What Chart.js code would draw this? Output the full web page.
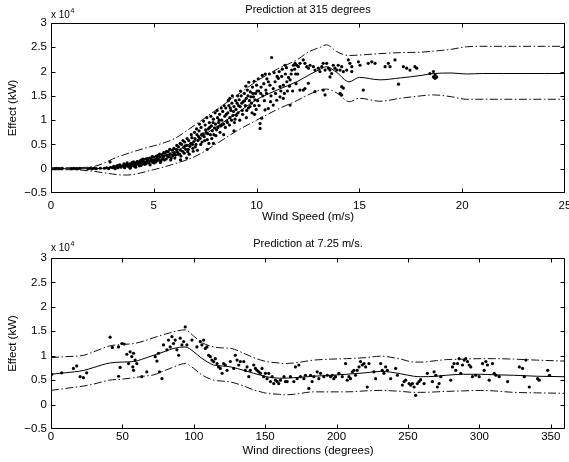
<!DOCTYPE html>
<html>
<head>
<meta charset="utf-8">
<script src="https://cdn.jsdelivr.net/npm/chart.js@4.4.1/dist/chart.umd.min.js"></script>
<style>
  html, body { margin: 0; padding: 0; background: #fff; }
  #wrap { position: relative; width: 569px; height: 462px; background: #fff; }
  canvas { position: absolute; left: 0; }
  #c1 { top: 0; }
  #c2 { top: 230px; }
</style>
</head>
<body>
<div id="wrap">
  <canvas id="c1" width="569" height="230"></canvas>
  <canvas id="c2" width="569" height="232"></canvas>
</div>
<script>
// ---------- tick labels ----------
const effectTicks = [-0.5, 0, 0.5, 1, 1.5, 2, 2.5, 3];
const speedTicks = [0, 5, 10, 15, 20, 25];
const dirTicks = [0, 50, 100, 150, 200, 250, 300, 350];

// ---------- top panel: prediction at 315 degrees (values in 10^4 kW) ----------
const speedGrid  = [0, 1, 2, 2.5, 3, 3.5, 4, 4.8, 5, 6, 7, 8, 9, 10, 11, 12, 12.5, 13.1, 13.4, 13.9, 14.5, 15.0, 16.0, 17.0, 18.0, 18.6, 19.5, 20.2, 21, 22, 23, 24, 25];
const speedMean  = [0, 0, 0, 0.01, 0.03, 0.06, 0.1, 0.17, 0.19, 0.35, 0.57, 0.85, 1.13, 1.42, 1.62, 1.8, 1.92, 2.05, 2.1, 1.98, 1.79, 1.88, 1.83, 1.87, 1.92, 1.96, 1.97, 1.95, 1.96, 1.96, 1.96, 1.96, 1.96];
const speedUpper = [0.02, 0.02, 0.04, 0.1, 0.2, 0.28, 0.35, 0.45, 0.47, 0.62, 0.9, 1.2, 1.5, 1.8, 2.05, 2.25, 2.4, 2.5, 2.55, 2.41, 2.33, 2.34, 2.37, 2.39, 2.4, 2.42, 2.46, 2.51, 2.52, 2.52, 2.52, 2.52, 2.52];
const speedLower = [-0.02, -0.02, -0.05, -0.08, -0.11, -0.13, -0.12, -0.04, -0.02, 0.1, 0.25, 0.5, 0.77, 1.0, 1.22, 1.41, 1.52, 1.62, 1.64, 1.56, 1.38, 1.45, 1.39, 1.45, 1.5, 1.52, 1.48, 1.43, 1.43, 1.43, 1.43, 1.43, 1.43];

const speedObs = [
  [0.2,0.0],[0.3,0.01],[0.4,0.0],[0.5,0.0],[0.55,0.01],[1.0,0.0],[1.1,0.01],[1.2,0.0],[1.3,0.0],[1.4,0.01],
  [1.8,0.0],[1.9,0.01],[2.0,0.0],[2.1,0.01],[2.2,0.0],[2.4,0.01],
  [2.6,0.01],[2.7,0.02],[2.8,0.0],[2.87,0.14],[2.9,0.03],[3.0,0.02],[3.05,0.05],[3.1,0.03],[3.2,0.06],[3.25,0.02],
  [3.3,0.04],[3.35,0.08],[3.4,0.03],[3.5,0.06],[3.55,0.1],[3.6,0.04],[3.65,0.07],[3.7,0.12],[3.75,0.05],[3.8,0.08],
  [3.85,0.01],[3.85,0.1],[3.9,0.06],[3.95,0.13],[4.0,0.09],
  [4.05,0.05],[4.1,0.12],[4.15,0.08],[4.2,0.15],[4.25,0.1],[4.3,0.06],[4.35,0.13],[4.4,0.18],[4.45,0.11],[4.5,0.15],
  [4.55,0.09],[4.6,0.2],[4.65,0.14],[4.7,0.17],[4.75,0.12],[4.8,0.22],[4.85,0.16],[4.9,0.19],[4.95,0.13],[5.0,0.24],
  [5.05,0.18],[5.1,0.14],[5.15,0.22],[5.2,0.27],[5.25,0.19],[5.3,0.24],[5.35,0.16],[5.4,0.29],[5.45,0.22],[5.5,0.26],
  [5.55,0.32],[5.6,0.2],[5.65,0.28],[5.7,0.35],[5.75,0.25],[5.8,0.3],[5.85,0.22],[5.9,0.38],[5.95,0.29],[6.0,0.33],
  [6.05,0.28],[6.1,0.4],[6.15,0.34],[6.2,0.45],[6.25,0.3],[6.3,0.38],[6.35,0.5],[6.4,0.36],[6.45,0.44],[6.5,0.55],
  [6.55,0.4],[6.6,0.48],[6.65,0.35],[6.7,0.58],[6.75,0.46],[6.8,0.52],[6.85,0.64],[6.9,0.42],[6.95,0.56],[7.0,0.62],
  [6.6,0.22],[6.3,0.18],
  [7.05,0.5],[7.1,0.7],[7.15,0.58],[7.2,0.78],[7.25,0.62],[7.3,0.85],[7.35,0.55],[7.4,0.72],[7.45,0.66],[7.5,0.9],
  [7.55,0.75],[7.6,0.6],[7.65,0.82],[7.7,0.95],[7.75,0.7],[7.8,0.88],[7.85,0.78],[7.9,1.02],[7.95,0.84],[8.0,0.92],
  [7.6,0.4],[7.9,0.52],
  [8.05,0.8],[8.1,1.05],[8.15,0.95],[8.2,1.12],[8.25,0.88],[8.3,1.0],[8.35,1.18],[8.4,0.92],[8.45,1.08],[8.5,1.25],
  [8.55,0.98],[8.6,1.15],[8.65,1.3],[8.7,1.05],[8.75,1.2],[8.8,1.35],[8.85,1.1],[8.9,1.28],[8.95,1.02],[9.0,1.22],
  [8.4,0.7],[8.9,0.78],[8.7,1.45],
  [9.05,1.35],[9.1,1.15],[9.15,1.42],[9.2,1.28],[9.25,1.5],[9.3,1.2],[9.35,1.38],[9.4,1.55],[9.45,1.3],[9.5,1.45],
  [9.55,1.62],[9.6,1.25],[9.65,1.4],[9.7,1.58],[9.75,1.35],[9.8,1.68],[9.85,1.48],[9.9,1.3],[9.95,1.55],[10.0,1.72],
  [9.5,1.05],[9.9,1.12],
  [10.05,1.4],[10.1,1.6],[10.17,0.83],[10.17,0.93],[10.25,1.04],[10.3,1.5],[10.35,1.75],[10.41,1.21],[10.45,1.62],
  [10.5,1.85],[10.57,1.79],[10.57,1.24],[10.65,1.72],[10.73,2.29],[10.81,1.65],[10.81,1.31],[10.9,1.79],[10.98,1.41],
  [11.0,1.9],[10.2,1.55],[10.7,1.5],
  [11.06,1.86],[11.14,1.69],[11.14,1.48],[11.22,1.9],[11.3,1.72],[11.3,1.45],[11.38,2.13],[11.4,1.95],[11.47,1.79],
  [11.55,1.88],[11.63,1.83],[11.63,1.31],[11.71,2.03],[11.79,2.13],[11.87,2.17],[11.95,2.13],[12.03,2.1],[11.9,1.95],
  [11.5,1.6],[12.11,2.17],[12.11,1.62],
  [12.27,2.24],[12.35,2.17],[12.44,2.1],[12.52,2.07],[12.6,2.13],[12.76,2.1],[12.84,2.03],[13.0,2.07],[13.08,2.0],
  [13.17,2.1],[13.24,2.17],[13.33,2.03],[13.41,2.17],[13.49,2.07],[13.57,2.03],[13.65,1.96],[13.73,2.13],[13.81,2.07],
  [13.9,2.03],[13.97,2.13],[14.06,2.03],[14.14,2.1],[14.22,2.0],[14.38,2.03],[14.46,2.24],[14.54,2.17],[14.63,2.1],
  [14.63,2.0],[12.52,1.76],[13.33,1.52],[13.57,1.89],[14.06,1.55],[14.14,1.69],[14.22,1.66],[12.27,1.62],[12.84,1.59],
  [13.24,1.62],[12.35,1.65],[14.14,1.52],
  [14.95,2.2],[15.03,2.13],[15.19,1.62],[15.43,2.17],[15.6,2.2],[15.76,2.17],[16.25,2.1],[16.41,2.17],[16.49,2.1],
  [16.73,2.24],[16.9,1.74],[17.14,2.1],[17.3,2.07],[17.46,2.03],[17.7,2.1],[17.79,2.07],[18.43,1.96],[18.6,2.0],
  [18.68,1.93],[18.76,1.89],[18.6,1.89],[18.68,1.86],
  // extra observations filling the dense cloud
  [3.12,0.0],[3.28,0.07],[3.42,0.05],[3.58,0.02],[3.72,0.09],[3.88,0.04],[4.02,0.14],[4.12,0.03],[4.22,0.11],
  [4.33,0.16],[4.38,0.07],[4.48,0.2],[4.52,0.12],[4.62,0.1],[4.68,0.21],[4.78,0.15],[4.82,0.08],[4.92,0.25],[4.98,0.17],
  [5.02,0.12],[5.12,0.26],[5.18,0.17],[5.28,0.3],[5.32,0.13],[5.42,0.2],[5.48,0.33],[5.52,0.18],[5.62,0.36],[5.68,0.24],
  [5.78,0.4],[5.82,0.18],[5.92,0.27],[5.98,0.42],[6.02,0.22],[6.12,0.48],[6.18,0.3],[6.28,0.52],[6.32,0.26],[6.42,0.58],
  [6.48,0.32],[6.52,0.47],[6.62,0.62],[6.68,0.4],[6.72,0.3],[6.82,0.7],[6.88,0.5],[6.92,0.36],[6.98,0.75],
  [7.02,0.45],[7.08,0.82],[7.12,0.38],[7.18,0.66],[7.22,0.92],[7.28,0.5],[7.32,0.7],[7.42,0.98],[7.48,0.58],[7.52,0.8],
  [7.58,1.05],[7.62,0.72],[7.68,0.52],[7.72,0.85],[7.78,1.08],[7.82,0.62],[7.88,0.95],[7.92,0.7],[7.98,1.15],[8.02,0.68],
  [8.08,1.2],[8.12,0.85],[8.18,1.0],[8.22,0.75],[8.28,1.25],[8.32,0.9],[8.42,1.3],[8.48,0.85],[8.52,1.12],[8.58,0.95],
  [8.62,1.4],[8.68,0.9],[8.72,1.25],[8.78,1.0],[8.82,1.5],[8.88,1.18],[8.92,0.95],[8.98,1.4],
  [9.02,1.1],[9.08,1.5],[9.12,1.3],[9.18,1.0],[9.22,1.6],[9.28,1.35],[9.32,1.12],[9.42,1.4],[9.48,1.7],[9.52,1.2],
  [9.58,1.5],[9.62,1.78],[9.68,1.28],[9.72,1.48],[9.78,1.15],[9.82,1.55],[9.88,1.8],[9.92,1.42],[9.98,1.22],[10.02,1.6],
  [10.08,1.85],[10.12,1.3],[10.22,1.68],[10.28,1.92],[10.38,1.4],[10.42,1.95],[10.48,1.55],[10.62,1.95],[10.68,1.38],
  [10.85,1.98],[10.92,1.55],
  [11.1,2.0],[11.18,1.6],[11.25,2.05],[11.35,1.55],[11.45,2.08],[11.6,1.7],[11.68,1.95],[11.75,1.6],[11.85,2.05],
  [11.92,1.75],[12.0,1.95]
];

// ---------- bottom panel: prediction at 7.25 m/s (values in 10^4 kW) ----------
const dirGrid  = [0, 10, 23, 30, 41, 50, 58, 65, 72, 80, 86, 94, 100, 105, 114, 120, 126, 135, 142, 147, 151, 160, 163, 170, 184, 196, 207, 220, 231, 245, 254, 259, 270, 277, 289, 301, 310, 324, 340, 360];
const dirMean  = [0.62, 0.65, 0.70, 0.76, 0.85, 0.87, 0.88, 0.94, 1.01, 1.09, 1.15, 1.18, 1.08, 0.96, 0.81, 0.79, 0.77, 0.70, 0.64, 0.60, 0.57, 0.54, 0.54, 0.55, 0.58, 0.60, 0.62, 0.65, 0.68, 0.63, 0.58, 0.57, 0.58, 0.60, 0.62, 0.62, 0.61, 0.60, 0.58, 0.57];
const dirUpper = [0.96, 0.98, 1.01, 1.08, 1.20, 1.23, 1.25, 1.30, 1.37, 1.44, 1.49, 1.53, 1.40, 1.28, 1.18, 1.16, 1.15, 1.05, 0.96, 0.91, 0.88, 0.85, 0.84, 0.85, 0.91, 0.93, 0.94, 0.96, 0.99, 0.93, 0.87, 0.87, 0.90, 0.92, 0.93, 0.94, 0.94, 0.93, 0.91, 0.89];
const dirLower = [0.29, 0.33, 0.38, 0.42, 0.50, 0.52, 0.55, 0.58, 0.61, 0.70, 0.77, 0.84, 0.74, 0.62, 0.50, 0.48, 0.46, 0.38, 0.30, 0.26, 0.23, 0.21, 0.20, 0.21, 0.26, 0.26, 0.26, 0.28, 0.29, 0.27, 0.25, 0.25, 0.26, 0.27, 0.28, 0.29, 0.28, 0.25, 0.24, 0.23];

const dirObs = [
  [0.5,0.62],[7.5,0.65],[15.7,0.74],[18.0,0.79],[20.4,0.57],[22.7,0.55],[25.0,0.65],[41.4,1.38],[43.0,1.17],
  [47.3,1.18],[49.6,1.25],[51.2,1.24],[47.3,0.58],[48.4,0.76],[53.1,1.03],[54.3,0.84],[55.4,1.08],[56.6,0.98],
  [57.3,0.77],[57.8,1.05],[57.8,0.70],[58.9,0.91],[60.1,0.84],[63.6,0.57],[67.1,0.67],[73.0,0.98],[74.2,0.89],
  [75.3,1.05],[76.0,0.67],[77.7,0.53],[78.8,1.22],[81.2,1.12],[82.3,1.32],[83.5,1.18],[84.7,1.39],[85.8,1.25],
  [87.0,1.32],[88.2,1.12],[89.4,1.01],[90.5,1.36],[91.7,1.22],[92.9,1.29],[94.0,1.59],[95.2,1.22],[98.7,1.32],
  [102.2,1.18],[104.6,1.29],[105.7,1.22],[106.9,1.32],[108.1,1.15],[109.2,1.18],[110.4,1.01],[111.6,0.98],
  [112.7,0.91],[113.9,0.88],[115.1,0.94],[116.3,0.84],[117.4,0.77],[118.6,0.74],[119.8,0.64],[120.9,0.84],
  [122.1,0.81],[123.3,0.70],[125.6,0.88],[128.0,0.74],[129.1,1.01],[130.3,0.91],[131.5,0.81],[132.6,0.88],
  [135.0,0.88],[136.1,0.70],[137.3,0.77],[138.5,0.57],[139.6,0.70],[142.0,0.81],[143.2,0.74],[144.3,0.70],
  [145.5,0.67],[146.7,0.64],[147.8,0.74],[149.0,0.57],[150.2,0.64],[151.3,0.53],[152.5,0.64],[153.7,0.47],
  [154.9,0.57],[156.0,0.43],[157.2,0.50],[158.4,0.47],[159.5,0.43],[160.7,0.50],[165.4,0.47],[167.7,0.57],
  [170.1,0.47],[171.2,0.77],[172.4,0.53],[173.6,0.81],
  [163.2,0.57],[164.2,0.47],[174.7,0.57],[177.1,0.53],[178.2,0.60],[180.6,0.33],[181.8,0.60],[182.9,0.47],
  [184.1,0.57],[186.4,0.67],[187.6,0.53],[188.8,0.64],[191.1,0.57],[193.5,0.60],[195.8,0.57],[197.0,0.60],
  [198.1,0.53],[199.3,0.57],[201.6,0.64],[204.0,0.57],[206.3,0.84],[207.5,0.50],[208.7,0.57],[209.8,0.53],
  [211.0,0.67],[212.2,0.70],[213.3,0.60],[214.5,0.70],[215.7,0.77],[216.8,0.88],[218.0,0.81],[219.2,0.84],
  [220.4,0.77],[221.5,0.36],[222.7,0.84],[226.2,0.67],[227.4,0.53],[230.9,0.84],[232.0,0.70],[233.2,0.64],
  [234.4,0.77],[235.6,0.70],[237.9,0.53],[241.4,0.74],[242.6,0.60],[246.1,0.40],[247.3,0.47],[248.4,0.50],
  [250.8,0.43],[251.9,0.40],[253.1,0.43],[254.3,0.36],[255.4,0.19],[256.6,0.43],[257.8,0.47],[258.9,0.51],
  [261.3,0.43],[263.6,0.64],[267.1,0.47],[268.3,0.67],[269.5,0.60],[270.6,0.36],[271.8,0.43],[273.0,0.57],
  [280.0,0.50],[281.2,0.77],[282.3,0.84],[283.5,0.70],[284.7,0.84],[285.8,0.94],[287.0,0.64],[288.2,0.81],
  [289.4,0.91],[290.5,0.94],[291.7,0.88],[292.9,0.81],[294.0,0.77],[295.2,0.57],[297.5,0.60],[299.9,0.57],
  [302.2,0.84],[303.4,0.70],[304.6,0.88],[305.7,0.81],[306.9,0.50],[309.2,0.84],[310.4,0.64],[311.6,0.60],
  [313.9,0.57],[319.8,0.47],[328.0,0.77],[330.3,0.74],[331.5,0.57],[332.6,0.91],[335.0,0.36],[340.8,0.53],
  [341.9,0.50],[347.9,0.70],[349.1,0.60]
];

// ---------- rendering ----------
const FAM = "'Liberation Sans', Arial, Helvetica, sans-serif";
Chart.defaults.font.family = FAM;
Chart.defaults.color = '#000';

const DASHDOT = [8, 2.5, 1.5, 2.5];

const matlabFrame = {
  id: 'matlabFrame',
  afterDraw(chart, args, opts) {
    const { ctx, chartArea: a, scales: { x, y } } = chart;
    const L = Math.round(a.left) + 0.5, R = Math.round(a.right) - 0.5;
    const T = Math.round(a.top) + 0.5, B = Math.round(a.bottom) - 0.5;
    const clampX = v => Math.min(Math.max(v, L), R);
    const clampY = v => Math.min(Math.max(v, T), B);
    ctx.save();
    ctx.strokeStyle = '#000';
    ctx.lineWidth = 1;
    ctx.beginPath();
    ctx.rect(L, T, R - L, B - T);
    const tl = 4;
    x.ticks.forEach(t => {
      const px = clampX(Math.round(x.getPixelForValue(t.value)) + 0.5);
      ctx.moveTo(px, B); ctx.lineTo(px, B - tl);
      ctx.moveTo(px, T); ctx.lineTo(px, T + tl);
    });
    y.ticks.forEach(t => {
      const py = clampY(Math.round(y.getPixelForValue(t.value)) + 0.5);
      ctx.moveTo(L, py); ctx.lineTo(L + tl, py);
      ctx.moveTo(R, py); ctx.lineTo(R - tl, py);
    });
    ctx.stroke();
    ctx.fillStyle = '#000';
    ctx.font = '11px ' + FAM;
    ctx.textAlign = 'center';
    ctx.textBaseline = 'middle';
    ctx.fillText(opts.title, (a.left + a.right) / 2, opts.titleY);
    ctx.textAlign = 'left';
    ctx.textBaseline = 'alphabetic';
    ctx.font = '10px ' + FAM;
    const base = a.top - opts.expGap;
    ctx.fillText('x 10', a.left, base);
    const w = ctx.measureText('x 10').width;
    ctx.font = '7px ' + FAM;
    ctx.fillText('4', a.left + w + 0.5, base - 5);
    ctx.restore();
  }
};

function minusFmt(v) { return (v < 0 ? '\u2212' : '') + Math.abs(v); }

function makeChart(id, cfg) {
  const ctx = document.getElementById(id);
  return new Chart(ctx, {
    type: 'scatter',
    data: {
      datasets: [
        { data: cfg.grid.map((x, i) => ({ x, y: cfg.mean[i] })), showLine: true, borderColor: '#000', borderWidth: 1, pointRadius: 0, cubicInterpolationMode: 'monotone', order: 1 },
        { data: cfg.grid.map((x, i) => ({ x, y: cfg.upper[i] })), showLine: true, borderColor: '#111', borderWidth: 1, borderDash: DASHDOT, pointRadius: 0, cubicInterpolationMode: 'monotone', order: 1 },
        { data: cfg.grid.map((x, i) => ({ x, y: cfg.lower[i] })), showLine: true, borderColor: '#111', borderWidth: 1, borderDash: DASHDOT, pointRadius: 0, cubicInterpolationMode: 'monotone', order: 1 },
        { data: cfg.obs.map(([x, y]) => ({ x, y })), showLine: false, pointRadius: 1.6, pointStyle: 'circle', backgroundColor: '#000', borderWidth: 0, order: 2 }
      ]
    },
    options: {
      responsive: false,
      animation: false,
      events: [],
      layout: { padding: { top: cfg.padTop, right: 4, left: 0, bottom: 0 } },
      plugins: {
        legend: { display: false },
        tooltip: { enabled: false },
        matlabFrame: { title: cfg.title, titleY: cfg.titleY, expGap: cfg.expGap }
      },
      scales: {
        x: {
          type: 'linear', min: cfg.xMin, max: cfg.xMax,
          afterBuildTicks: s => { s.ticks = cfg.xTicks.map(v => ({ value: v })); },
          grid: { display: false, drawTicks: false },
          border: { display: false },
          ticks: { padding: cfg.xLabelPad, autoSkip: false, maxRotation: 0, color: '#000', font: { size: 11.5 } },
          title: { display: true, text: cfg.xTitle, color: '#000', font: { size: 11.5 }, padding: { top: 0, bottom: cfg.xTitlePad } },
          afterFit: s => { s.height = cfg.xAxisH; s.paddingLeft = 0; s.paddingRight = 0; }
        },
        y: {
          type: 'linear', min: -0.5, max: 3,
          afterBuildTicks: s => { s.ticks = effectTicks.map(v => ({ value: v })); },
          grid: { display: false, drawTicks: false },
          border: { display: false },
          ticks: { padding: 4, color: '#000', font: { size: 11.5 }, callback: v => minusFmt(v) },
          title: { display: true, text: 'Effect (kW)', color: '#000', font: { size: 11.5 }, padding: { top: 6, bottom: 0 } },
          afterFit: s => { s.width = 51; s.paddingTop = 0; s.paddingBottom = 0; }
        }
      }
    },
    plugins: [matlabFrame]
  });
}

makeChart('c1', {
  grid: speedGrid, mean: speedMean, upper: speedUpper, lower: speedLower, obs: speedObs,
  xMin: 0, xMax: 25, xTicks: speedTicks, xTitle: 'Wind Speed (m/s)',
  title: 'Prediction at 315 degrees', titleY: 10, expGap: 5,
  padTop: 23, xAxisH: 37, xLabelPad: 6, xTitlePad: 6
});

makeChart('c2', {
  grid: dirGrid, mean: dirMean, upper: dirUpper, lower: dirLower, obs: dirObs,
  xMin: 0, xMax: 360, xTicks: dirTicks, xTitle: 'Wind directions (degrees)',
  title: 'Prediction at 7.25 m/s.', titleY: 14, expGap: 7,
  padTop: 28, xAxisH: 33, xLabelPad: 1, xTitlePad: 4
});
</script>
</body>
</html>
